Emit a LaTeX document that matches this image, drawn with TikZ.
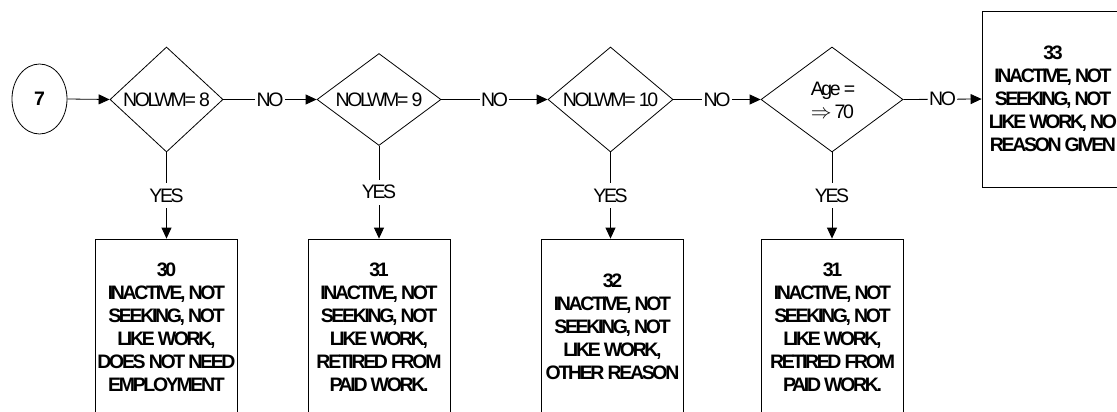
\documentclass[tikz,border=0pt]{standalone}
\usepackage{fontspec}
\setmainfont{Liberation Sans}[LetterSpace=-12]
\usetikzlibrary{shapes.geometric,arrows.meta}
\tikzset{
  every node/.style={font=\fontsize{19.5}{23}\selectfont},
  dia/.style={draw, shape=diamond, inner sep=0pt, line width=0.8pt},
  outbox/.style={draw, rectangle, line width=0.8pt, minimum width=142pt, minimum height=176pt,
     align=center, inner sep=0pt, font=\fontsize{19.5}{23}\selectfont\bfseries},
  conn/.style={line width=0.8pt, -{Triangle[length=11pt,width=10pt]}},
  nolab/.style={fill=white, inner xsep=1.5pt, inner ysep=2pt},
  yeslab/.style={fill=white, inner xsep=2pt, inner ysep=5.5pt},
}
\begin{document}
\begin{tikzpicture}[x=1pt,y=-1pt]
\useasboundingbox (0,0) rectangle (1117,412);
\clip (0,0) rectangle (1117,412);
% start
\node[draw, ellipse, line width=0.8pt, minimum width=55pt, minimum height=70pt, inner sep=0pt,
      font=\fontsize{19.5}{23}\selectfont\bfseries] (s) at (39.5,99) {7};
% diamonds
\node[dia, minimum width=113pt, minimum height=105pt] (d1) at (166.5,99.5) {};
\node at (d1) {NOLWM= 8};
\node[dia, minimum width=124pt, minimum height=92pt] (d2) at (379,99.5) {};
\node at (d2) {NOLWM= 9};
\node[dia, minimum width=125pt, minimum height=105pt] (d3) at (610.5,99.5) {};
\node at (d3) {NOLWM= 10};
\node[dia, minimum width=142pt, minimum height=105pt] (d4) at (832,99.5) {};
\node[align=left, font=\fontsize{19.5}{23}\selectfont] at (833,100) {Age =\\$\Rightarrow$ 70};
% outcome boxes
\node[outbox] (b1) at (166.5,327) {30\\INACTIVE, NOT\\SEEKING, NOT\\LIKE WORK,\\DOES NOT NEED\\EMPLOYMENT};
\node[outbox] (b2) at (379,327) {31\\INACTIVE, NOT\\SEEKING, NOT\\LIKE WORK,\\RETIRED FROM\\PAID WORK.};
\node[outbox] (b3) at (612.5,327) {32\\INACTIVE, NOT\\SEEKING, NOT\\LIKE WORK,\\OTHER REASON};
\node[outbox] (b4) at (832.5,327) {31\\INACTIVE, NOT\\SEEKING, NOT\\LIKE WORK,\\RETIRED FROM\\PAID WORK.};
\node[outbox] (b5) at (1053,99) {33\\INACTIVE, NOT\\SEEKING, NOT\\LIKE WORK, NO\\REASON GIVEN};
% connectors
\draw[conn] (s.east) -- (d1.west);
\draw[conn] (d1.east) -- node[nolab] {NO} (d2.west);
\draw[conn] (d2.east) -- node[nolab] {NO} (d3.west);
\draw[conn] (d3.east) -- node[nolab] {NO} (d4.west);
\draw[conn] (d4.east) -- node[nolab] {NO} (b5.west);
\draw[conn] (d1.south) -- node[yeslab] {YES} (d1.south |- b1.north);
\draw[conn] (d2.south) -- node[yeslab] {YES} (d2.south |- b2.north);
\draw[conn] (d3.south) -- node[yeslab] {YES} (d3.south |- b3.north);
\draw[conn] (d4.south) -- node[yeslab] {YES} (d4.south |- b4.north);
\end{tikzpicture}
\end{document}
